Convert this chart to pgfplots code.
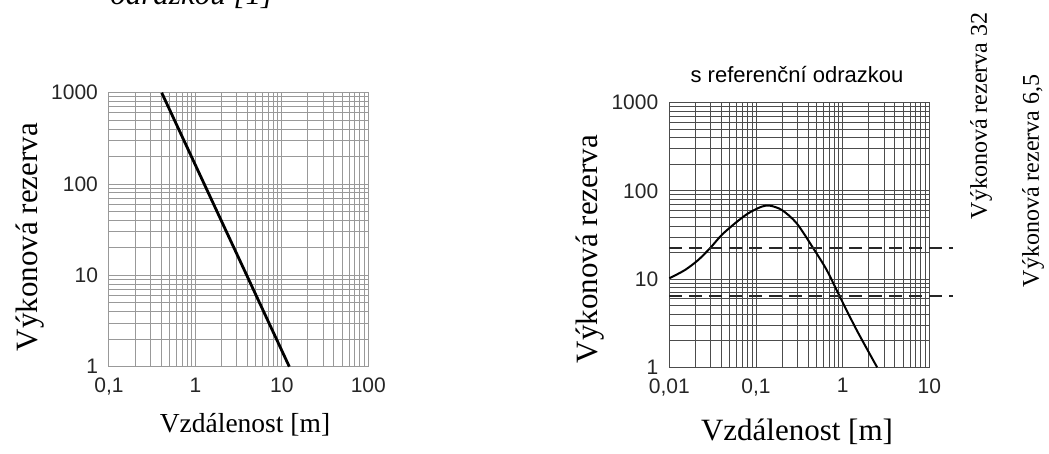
\documentclass[border=0pt]{standalone}
\usepackage{fontspec}
\setmainfont{Liberation Serif}
\newfontfamily\arial{Liberation Sans}
\usepackage{pgfplots}
\pgfplotsset{compat=1.18}

\pgfplotsset{
  loggrid/.style={
    scale only axis,
    grid=both,
    tick style={draw=none},
    major tick length=0pt, minor tick length=0pt,
    ytick={1,10,100,1000},
    yticklabels={1,10,100,1000},
    minor ytick={2,3,4,5,6,7,8,9,20,30,40,50,60,70,80,90,200,300,400,500,600,700,800,900},
    ymin=1, ymax=1000,
    ticklabel style={font=\arial\fontsize{10.5}{12}\selectfont, text=black!85},
    yticklabel style={xshift=-2pt},
    xticklabel style={yshift=-2pt},
    clip=false,
  }
}

\begin{document}
\begin{tikzpicture}
\useasboundingbox (0,0) rectangle (524.5pt,227pt);

% cut-off caption line at the very top
\node[anchor=base west, inner sep=0pt, font=\fontsize{15.5}{18}\selectfont\itshape] at (55pt,224.5pt) {odrazkou [1]};

% left chart
\begin{axis}[
  xmode=log, ymode=log,
  loggrid,
  at={(54.5pt,43.65pt)}, anchor=south west,
  width=129.65pt, height=137pt,
  xmin=0.1, xmax=100,
  xtick={0.1,1,10,100},
  xticklabels={{0,1},1,10,100},
  minor xtick={0.2,0.3,0.4,0.5,0.6,0.7,0.8,0.9,2,3,4,5,6,7,8,9,20,30,40,50,60,70,80,90},
  major grid style={gray!80, line width=0.5pt},
  minor grid style={gray!80, line width=0.5pt},
  axis line style={gray!80, line width=0.5pt},
]
\addplot[black, line width=1.4pt] coordinates {(0.407,1000) (12.2,1)};
\end{axis}

% right chart
\begin{axis}[
  xmode=log, ymode=log,
  loggrid,
  at={(334.65pt,43.35pt)}, anchor=south west,
  width=130pt, height=132.3pt,
  xmin=0.01, xmax=10,
  xtick={0.01,0.1,1,10},
  xticklabels={{0,01},{0,1},1,10},
  minor xtick={0.02,0.03,0.04,0.05,0.06,0.07,0.08,0.09,0.2,0.3,0.4,0.5,0.6,0.7,0.8,0.9,2,3,4,5,6,7,8,9},
  major grid style={black!70, line width=0.45pt},
  minor grid style={black!70, line width=0.45pt},
  axis line style={black!70, line width=0.45pt},
]
\addplot[black, line width=1pt, smooth, tension=0.5] coordinates {
  (0.01,10.2) (0.0152,12.7) (0.0216,16.5) (0.0295,22.4) (0.0402,31.6)
  (0.0573,42.9) (0.0815,55.7) (0.116,66.2) (0.145,68) (0.2,60.5)
  (0.295,42.9) (0.458,22.4) (0.654,12.7) (0.93,6.3) (1.45,2.65) (2.5,1)
};
\addplot[black!85, line width=1pt, dash pattern=on 6.5pt off 3.5pt] coordinates {(0.01,22.4) (18.6,22.4)};
\addplot[black!85, line width=1pt, dash pattern=on 6.5pt off 3.5pt] coordinates {(0.01,6.4) (18.6,6.4)};
\end{axis}

% titles and labels
\node[font=\arial\fontsize{11}{13}\selectfont] at (398.5pt,189.5pt) {s referenční odrazkou};
\node[rotate=90, font=\fontsize{15.5}{18}\selectfont] at (15pt,108.5pt) {Výkonová rezerva};
\node[rotate=90, font=\fontsize{15.5}{18}\selectfont] at (295pt,102.5pt) {Výkonová rezerva};
\node[font=\fontsize{13.75}{16}\selectfont] at (122.5pt,14.5pt) {Vzdálenost [m]};
\node[font=\fontsize{15.5}{18}\selectfont] at (398.5pt,11pt) {Vzdálenost [m]};
\node[rotate=90, font=\fontsize{12}{14}\selectfont] at (490.5pt,169pt) {Výkonová rezerva 32};
\node[rotate=90, font=\fontsize{12}{14}\selectfont] at (516.5pt,136.5pt) {Výkonová rezerva 6,5};
\end{tikzpicture}
\end{document}
